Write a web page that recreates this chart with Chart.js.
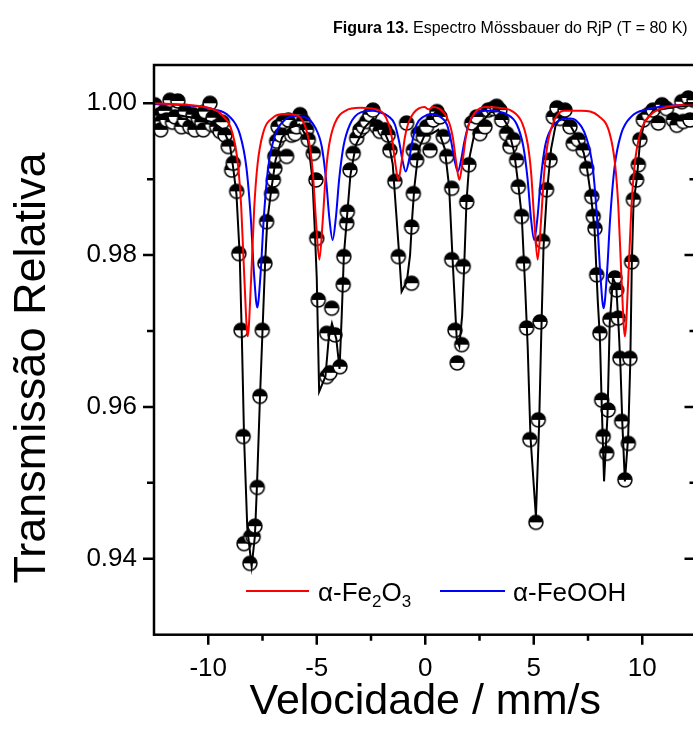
<!DOCTYPE html>
<html lang="pt">
<head>
<meta charset="UTF-8">
<title>Espectro Mössbauer do RjP</title>
<script src="https://cdn.jsdelivr.net/npm/chart.js"></script>
<style>
  body {
    margin: 0;
    width: 693px;
    height: 735px;
    overflow: hidden;
    background: #fff;
    position: relative;
    font-family: "Liberation Sans", Arial, sans-serif;
  }
  #wrap { position: absolute; left: 0; top: 0; }
  .fig-title {
    position: absolute; left: 333px; top: 20px;
    font-size: 16px; line-height: 16px; white-space: nowrap; color: #000;
  }
  .key { position: absolute; height: 2px; }
  .key-label {
    position: absolute; font-size: 26px; line-height: 26px;
    white-space: nowrap; color: #000;
  }
  .key-label sub { font-size: 17px; vertical-align: -6px; line-height: 0; }
</style>
</head>
<body>
<div id="wrap"><canvas id="spectrum" width="712" height="735"></canvas></div>
<div class="fig-title"><b>Figura 13.</b> Espectro Mössbauer do RjP (T = 80 K)</div>

<!-- legend -->
<div class="key" style="left:246px; top:590px; width:63px; background:#ff0000;"></div>
<div class="key-label" style="left:318px; top:579px;">α-Fe<sub>2</sub>O<sub>3</sub></div>
<div class="key" style="left:440px; top:590px; width:65px; background:#0000ff;"></div>
<div class="key-label" style="left:513px; top:579px;">α-FeOOH</div>

<script>
  // axis ticks
  const xMajor = [-10, -5, 0, 5, 10];
  const xMinor = [-7.5, -2.5, 2.5, 7.5];
  const yMajor = [0.94, 0.96, 0.98, 1.00];
  const yMinor = [0.95, 0.97, 0.99];

  // experimental points (velocity mm/s, relative transmission)
  const vel = [
    -12.46, -12.23, -12.15, -12.19, -12.0, -11.92, -11.76, -11.65, -11.53, -11.40, -11.23, -11.1, -11.07,
    -10.85, -10.7, -10.62, -10.46, -10.3, -10.23, -10.15, -9.92, -9.85, -9.78, -9.61, -9.46, -9.35, -9.23, -9.08,
    -8.92, -8.85, -8.69, -8.59, -8.49, -8.39, -8.35, -8.08, -8.05, -7.93, -7.85, -7.74, -7.62, -7.51, -7.39,
    -7.31, -7.08, -7.00, -6.93, -6.93,
    -6.85, -6.78, -6.65, -6.54, -6.39, -6.31, -6.16, -6.0, -5.93, -5.77, -5.62, -5.47, -5.39, -5.16, -5.04,
    -5.00, -4.93, -4.54, -4.39, -4.31, -4.54, -4.16, -3.93, -3.78, -3.75, -3.62, -3.59,
    -3.47, -3.32, -3.16, -3.01, -2.86, -2.70, -2.55, -2.41, -2.24, -2.09, -1.86, -1.71, -1.63,
    -1.40, -1.24, -0.63, -0.63, -0.55,
    -0.86, -0.55, -0.40, -0.32, -0.09, 0.06, 0.22, 0.37, 0.54, 0.68, 0.83, 0.99, 1.22,
    1.22, 1.37, 1.47, 1.68, 1.75, 1.91, 2.01,
    2.14, 2.37, 2.52, 2.75, 2.90, 3.13, 3.29, 3.44, 3.52, 3.75, 3.90, 4.06, 4.21,
    4.29, 4.44, 4.52, 4.67, 4.82, 5.10, 5.21, 5.29, 5.41, 5.59, 5.75, 5.90,
    6.07, 6.21, 6.44, 6.67, 6.82, 7.05, 7.28, 7.44, 7.67, 7.74,
    7.82, 7.90, 8.05, 8.13, 8.20, 8.36, 8.43, 8.51, 8.74, 8.82, 8.89, 8.97, 9.05, 9.20, 9.36, 9.43, 9.51,
    9.59, 9.74, 9.82, 9.89,
    10.05, 10.28, 10.49, 10.74, 10.91, 11.12, 11.43, 11.59, 11.82, 11.89, 12.12, 12.20, 12.38
  ];
  const trans = [
    0.9998, 0.9985, 0.9976, 0.9965, 0.9990, 0.9978, 1.0004, 0.9975, 0.9982, 1.0003, 0.9969, 0.9978, 0.9989,
    0.9969, 0.9985, 0.9965, 0.9980, 0.9975, 0.9965, 0.9989, 1.0000, 0.9972, 0.9981, 0.9969, 0.9963, 0.9975, 0.9958, 0.9943,
    0.9912, 0.9921, 0.9884, 0.9802, 0.9701, 0.9561, 0.9420, 0.9394, 0.9429, 0.9429, 0.9443, 0.9494, 0.9614, 0.9701, 0.9789,
    0.9844, 0.9881, 0.9899, 0.9914, 0.9930,
    0.9950, 0.9969, 0.9958, 0.9976, 0.9930, 0.9978, 0.9958, 0.9960, 0.9969, 0.9985, 0.9976, 0.9965, 0.9952, 0.9934, 0.9899,
    0.9822, 0.9741, 0.9640, 0.9645, 0.9730, 0.9697, 0.9695, 0.9653, 0.9761, 0.9798, 0.9842, 0.9857,
    0.9912, 0.9934, 0.9954, 0.9965, 0.9969, 0.9976, 0.9985, 0.9991, 0.9969, 0.9963, 0.9965, 0.9958, 0.9938,
    0.9897, 0.9798, 0.9763, 0.9837, 0.9881,
    0.9974, 0.9938, 0.9925, 0.9960, 0.9956, 0.9969, 0.9938, 0.9978, 0.9989, 0.9982, 0.9956, 0.9930, 0.9888,
    0.9794, 0.9701, 0.9658, 0.9682, 0.9785, 0.9870, 0.9919,
    0.9974, 0.9982, 0.9960, 0.9969, 0.9991, 0.9993, 0.9996, 0.9991, 0.9978, 0.9960, 0.9943, 0.9952, 0.9925,
    0.9890, 0.9851, 0.9789, 0.9704, 0.9557, 0.9448, 0.9583, 0.9712, 0.9818, 0.9886, 0.9925, 0.9982,
    0.9994, 0.9980, 0.9991, 0.9969, 0.9947, 0.9952, 0.9938, 0.9914, 0.9877, 0.9851,
    0.9835, 0.9774, 0.9697, 0.9609, 0.9561, 0.9539, 0.9596, 0.9715, 0.9770, 0.9754, 0.9717, 0.9664, 0.9581, 0.9504, 0.9552, 0.9664, 0.9791,
    0.9873, 0.9899, 0.9919, 0.9952,
    0.9978, 0.9985, 0.9991, 0.9974, 0.9998, 0.9993, 0.9978, 0.9971, 1.0002, 0.9976, 1.0007, 0.9978, 1.0004
  ];

  // total fit (black)
  const fitVel = [
    -12.5, -11.5, -10.5, -9.8, -9.3, -9.0, -8.85, -8.7, -8.55, -8.45, -8.35, -8.2, -8.0, -7.85, -7.75, -7.62,
    -7.5, -7.38, -7.28, -7.1, -6.9, -6.6, -6.2, -5.8, -5.55, -5.4, -5.2, -5.1, -5.0, -4.89, -4.6, -4.45, -4.3,
    -4.1, -3.95, -3.85, -3.75, -3.62, -3.45, -3.2, -2.8, -2.4, -2.0, -1.7, -1.5, -1.35, -1.2, -1.09, -0.85,
    -0.7, -0.6, -0.5, -0.3, 0.0, 0.3, 0.6, 0.9, 1.1, 1.25, 1.45, 1.57, 1.7, 1.8, 1.9, 2.05, 2.3, 2.6, 3.0,
    3.4, 3.8, 4.1, 4.3, 4.45, 4.6, 4.72, 4.85, 5.1, 5.25, 5.35, 5.45, 5.6, 5.8, 6.0, 6.2, 6.6, 7.0, 7.3,
    7.45, 7.65, 7.8, 7.95, 8.05, 8.13, 8.24, 8.4, 8.5, 8.65, 8.8, 8.92, 9.0, 9.08, 9.2, 9.35, 9.45, 9.52,
    9.6, 9.75, 9.9, 10.1, 10.5, 11.5, 12.5
  ];
  const fitTrans = [
    0.9985, 0.9985, 0.9980, 0.9975, 0.9965, 0.9945, 0.9915, 0.9880, 0.9800, 0.9690, 0.9560, 0.9440, 0.9390, 0.9430, 0.9500, 0.9610,
    0.9700, 0.9790, 0.9845, 0.9885, 0.9925, 0.9955, 0.9968, 0.9972, 0.9960, 0.9950, 0.9900, 0.9840, 0.9770, 0.9620, 0.9640, 0.9690, 0.9710,
    0.9690, 0.9650, 0.9720, 0.9800, 0.9845, 0.9905, 0.9945, 0.9968, 0.9980, 0.9970, 0.9950, 0.9920, 0.9860, 0.9800, 0.9752, 0.9765,
    0.9800, 0.9850, 0.9890, 0.9940, 0.9960, 0.9960, 0.9965, 0.9940, 0.9890, 0.9800, 0.9690, 0.9680, 0.9720, 0.9790, 0.9870, 0.9930, 0.9965, 0.9975, 0.9988,
    0.9990, 0.9970, 0.9935, 0.9890, 0.9850, 0.9760, 0.9680, 0.9560, 0.9455, 0.9580, 0.9700, 0.9810, 0.9880, 0.9940, 0.9970, 0.9980, 0.9975, 0.9955, 0.9935,
    0.9915, 0.9875, 0.9835, 0.9740, 0.9690, 0.9605, 0.9502, 0.9590, 0.9710, 0.9770, 0.9760, 0.9700, 0.9650, 0.9580, 0.9502, 0.9560, 0.9660, 0.9790,
    0.9870, 0.9900, 0.9950, 0.9975, 0.9990, 0.9995, 0.9998
  ];

  // alpha-Fe2O3 sextet (red)
  const hemVel = [
    -12.5, -11.0, -10.0, -9.38, -8.88, -8.63, -8.48, -8.33, -8.18, -8.03, -7.88, -7.73, -7.48, -6.98, -6.5,
    -6.08, -5.58, -5.33, -5.18, -5.03, -4.88, -4.73, -4.58, -4.43, -4.18, -3.68, -3.0,
    -2.44, -1.94, -1.69, -1.54, -1.39, -1.24, -1.09, -0.94, -0.79, -0.54, -0.04, 0.16,
    0.37, 0.87, 1.12, 1.27, 1.42, 1.57, 1.72, 1.87, 2.02, 2.27, 2.77, 3.4,
    3.98, 4.48, 4.73, 4.88, 5.03, 5.18, 5.33, 5.48, 5.63, 5.88, 6.38, 7.2,
    8.0, 8.5, 8.75, 8.9, 9.05, 9.2, 9.35, 9.5, 9.65, 9.9, 10.4, 11.0, 12.5
  ];
  const hemTrans = [
    1.0000, 0.9998, 0.9994, 0.9985, 0.9960, 0.9919, 0.9863, 0.9765, 0.9693, 0.9765, 0.9863, 0.9919, 0.9960, 0.9982, 0.9986,
    0.9985, 0.9973, 0.9945, 0.9908, 0.9843, 0.9794, 0.9843, 0.9908, 0.9945, 0.9973, 0.9990, 0.9994,
    0.9993, 0.9987, 0.9973, 0.9955, 0.9923, 0.9899, 0.9923, 0.9955, 0.9973, 0.9987, 0.9995, 0.9992,
    0.9995, 0.9987, 0.9973, 0.9955, 0.9923, 0.9899, 0.9923, 0.9955, 0.9973, 0.9987, 0.9995, 0.9994,
    0.9990, 0.9973, 0.9945, 0.9908, 0.9843, 0.9794, 0.9843, 0.9908, 0.9945, 0.9973, 0.9990, 0.9990,
    0.9983, 0.9960, 0.9919, 0.9863, 0.9765, 0.9693, 0.9765, 0.9863, 0.9919, 0.9960, 0.9985, 0.9994, 0.9999
  ];

  // alpha-FeOOH sextet (blue)
  const goeVel = [
    -12.5, -10.5, -9.74, -9.04, -8.54, -8.24, -8.04, -7.89, -7.74, -7.59, -7.44, -7.24, -6.94, -6.44, -6.0,
    -5.57, -5.07, -4.77, -4.57, -4.42, -4.27, -4.12, -3.97, -3.77, -3.47, -2.97, -2.4,
    -2.2, -1.7, -1.4, -1.2, -1.05, -0.9, -0.75, -0.6, -0.4, -0.1, 0.3,
    0.7, 1.0, 1.2, 1.35, 1.5, 1.65, 1.8, 2.0, 2.3, 2.8, 3.4,
    3.72, 4.22, 4.52, 4.72, 4.87, 5.02, 5.17, 5.32, 5.52, 5.82, 6.32, 6.7,
    6.92, 7.42, 7.72, 7.92, 8.07, 8.22, 8.37, 8.52, 8.72, 9.02, 9.52, 10.22, 11.0, 12.5
  ];
  const goeTrans = [
    0.9999, 0.9996, 0.9992, 0.9983, 0.9959, 0.9915, 0.9849, 0.9775, 0.9731, 0.9775, 0.9849, 0.9915, 0.9956, 0.9979, 0.9983,
    0.9982, 0.9968, 0.9943, 0.9899, 0.9849, 0.9820, 0.9849, 0.9899, 0.9943, 0.9972, 0.9988, 0.9990,
    0.9989, 0.9983, 0.9972, 0.9949, 0.9925, 0.9910, 0.9925, 0.9949, 0.9972, 0.9982, 0.9986,
    0.9982, 0.9972, 0.9949, 0.9925, 0.9910, 0.9925, 0.9949, 0.9972, 0.9986, 0.9990, 0.9989,
    0.9986, 0.9972, 0.9943, 0.9899, 0.9849, 0.9820, 0.9849, 0.9899, 0.9943, 0.9967, 0.9979, 0.9980,
    0.9978, 0.9955, 0.9915, 0.9848, 0.9774, 0.9730, 0.9774, 0.9848, 0.9915, 0.9959, 0.9983, 0.9992, 0.9996, 0.9999
  ];

  const pairs = (xs, ys) => xs.map((x, i) => ({ x: x, y: ys[i] }));
  const FONT = '"Liberation Sans", Arial, sans-serif';
  const Y_TITLE = 'Transmissão Relativa';

  // half filled circle marker (top black, bottom white)
  function halfDot(r) {
    const c = document.createElement('canvas');
    const s = 2 * r + 4;
    c.width = c.height = s;
    const g = c.getContext('2d');
    const m = s / 2;
    g.beginPath(); g.arc(m, m, r, 0, 2 * Math.PI); g.fillStyle = '#fff'; g.fill();
    g.beginPath(); g.arc(m, m, r, Math.PI, 2 * Math.PI); g.closePath(); g.fillStyle = '#000'; g.fill();
    g.beginPath(); g.arc(m, m, r, 0, 2 * Math.PI);
    g.lineWidth = 1.5; g.strokeStyle = '#000'; g.stroke();
    return c;
  }

  // frame + major/minor tick marks (Origin style) and the y title
  const framePlugin = {
    id: 'frame',
    afterDatasetsDraw(chart) {
      const { ctx, chartArea: a, scales: { x, y } } = chart;
      ctx.save();
      ctx.strokeStyle = '#000';
      ctx.lineWidth = 2.5;
      ctx.lineCap = 'square';
      ctx.strokeRect(a.left, a.top, a.right - a.left, a.bottom - a.top);
      ctx.beginPath();
      xMajor.forEach(v => { const p = x.getPixelForValue(v); ctx.moveTo(p, a.bottom); ctx.lineTo(p, a.bottom + 10); });
      xMinor.forEach(v => { const p = x.getPixelForValue(v); ctx.moveTo(p, a.bottom); ctx.lineTo(p, a.bottom + 6); });
      yMajor.forEach(v => {
        const p = y.getPixelForValue(v);
        ctx.moveTo(a.left, p); ctx.lineTo(a.left - 11, p);
        ctx.moveTo(a.right, p); ctx.lineTo(a.right - 12, p);
      });
      yMinor.forEach(v => {
        const p = y.getPixelForValue(v);
        ctx.moveTo(a.left, p); ctx.lineTo(a.left - 7, p);
        ctx.moveTo(a.right, p); ctx.lineTo(a.right - 7, p);
      });
      ctx.lineCap = 'butt';
      ctx.stroke();

      // y axis title, placed a little below the axis centre as in the original
      ctx.translate(33, 368);
      ctx.rotate(-Math.PI / 2);
      ctx.fillStyle = '#000';
      ctx.font = '45px ' + FONT;
      ctx.textAlign = 'center';
      ctx.textBaseline = 'middle';
      ctx.fillText(Y_TITLE, 0, 0);
      ctx.restore();
    }
  };

  new Chart(document.getElementById('spectrum'), {
    type: 'scatter',
    data: {
      datasets: [
        {
          label: 'α-Fe2O3', data: pairs(hemVel, hemTrans), showLine: true,
          borderColor: '#ff0000', borderWidth: 2, pointRadius: 0,
          cubicInterpolationMode: 'monotone', order: 1
        },
        {
          label: 'α-FeOOH', data: pairs(goeVel, goeTrans), showLine: true,
          borderColor: '#0000ff', borderWidth: 2, pointRadius: 0,
          cubicInterpolationMode: 'monotone', order: 2
        },
        {
          label: 'Ajuste', data: pairs(fitVel, fitTrans), showLine: true,
          borderColor: '#000000', borderWidth: 2, pointRadius: 0, tension: 0, order: 3
        },
        {
          label: 'RjP', data: pairs(vel, trans), pointStyle: halfDot(7),
          pointRadius: 7, order: 4
        }
      ]
    },
    options: {
      responsive: false,
      animation: false,
      layout: { padding: { left: 0, right: 15.5, top: 65, bottom: 0 } },
      plugins: { legend: { display: false }, tooltip: { enabled: false } },
      scales: {
        x: {
          type: 'linear', min: -12.5, max: 12.5,
          grid: { display: false, drawTicks: false },
          border: { display: false },
          afterBuildTicks: s => { s.ticks = xMajor.map(v => ({ value: v })); },
          afterFit: s => { s.height = 100.3; },
          ticks: { color: '#000', padding: 19, font: { family: FONT, size: 26 } },
          title: {
            display: true, text: 'Velocidade / mm/s', color: '#000',
            font: { family: FONT, size: 43 }, padding: { top: 0, bottom: 7 }
          }
        },
        y: {
          type: 'linear', min: 0.930, max: 1.00504,
          grid: { display: false, drawTicks: false },
          border: { display: false },
          afterBuildTicks: s => { s.ticks = yMajor.map(v => ({ value: v })); },
          afterFit: s => { s.width = 154; },
          ticks: {
            color: '#000', padding: 17, font: { family: FONT, size: 26 },
            callback: v => v.toFixed(2)
          },
          title: { display: false }
        }
      }
    },
    plugins: [framePlugin]
  });
</script>
</body>
</html>
